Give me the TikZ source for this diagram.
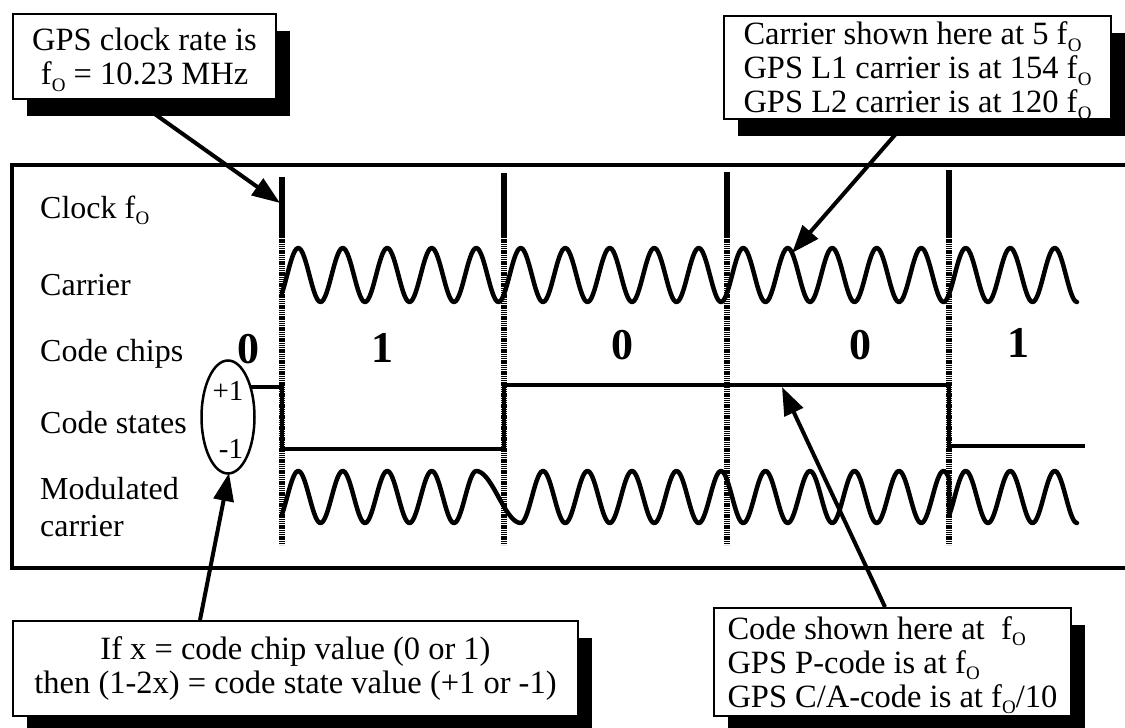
\documentclass[tikz,border=0pt]{standalone}
\usepackage{fontspec}
\setmainfont{Liberation Serif}
\usetikzlibrary{arrows.meta,shapes.geometric,shadows}
\pgfdeclarelayer{front}
\pgfsetlayers{main,front}
\newcommand{\fO}{f\kern0.3pt\smash{\raisebox{-6.5pt}{\fontsize{19}{19}\selectfont O}}}
\begin{document}
\begin{tikzpicture}[x=1pt,y=-1pt,
  txt/.style={font=\fontsize{32}{32}\selectfont, inner sep=0pt},
  chip/.style={font=\fontsize{44}{44}\selectfont\bfseries, inner sep=0pt},
  wave/.style={line width=4.5pt, line join=round, line cap=round},
  clk/.style={line width=6pt},
  clkh/.style={line width=6pt, dash pattern=on 1.3pt off 0.9pt},
  state/.style={line width=4pt},
  arr/.style={line width=4pt, -{Triangle[length=28pt,width=20pt]}},
  callout/.style={draw, line width=2pt, fill=white, inner sep=0pt,
     font=\fontsize{32.5}{34}\selectfont,
     drop shadow={shadow xshift=14pt, shadow yshift=-17pt, opacity=1, fill=black}}
]
\useasboundingbox (0,0) rectangle (1125,728);
% main frame
\draw[line width=4pt] (1125,165) -- (12,165) -- (12,568) -- (1125,568);
% left labels
\node[txt, anchor=base west] (lclk) at (40,218) {Clock \fO};
\node[txt, anchor=base west] (lcar) at (40,295) {Carrier};
\node[txt, anchor=base west] (lchips) at (40,361) {Code chips};
\node[txt, anchor=base west] (lstates) at (40,433) {Code states};
\node[txt, anchor=base west] (lmod1) at (40,499) {Modulated};
\node[txt, anchor=base west] (lmod2) at (40,536) {carrier};
% clock lines
\foreach \cx/\top in {282/177, 504/173, 727/172, 949/170}{
  \draw[clk] (\cx,\top) -- (\cx,237);
  \draw[clkh] (\cx,237) -- (\cx,545);
}
% carrier
\draw[wave] plot[domain=282:1077, samples=500] (\x, {275 + 27*cos((\x-276)/44.5*360)});
% modulated carrier
\draw[wave] plot[domain=282:476, samples=140] (\x, {497 + 26*cos((\x-276)/44.5*360)})
  -- plot[domain=476:521, samples=40] (\x, {497 - 26*cos((\x-476)/45*180)})
  -- plot[domain=521:949, samples=300] (\x, {497 - 26*cos((\x-276)/44.5*360)})
  -- plot[domain=949:1077, samples=100] (\x, {497 + 26*cos((\x-276)/44.5*360)});
% code chips
\node[chip] (c0a) at (248,349) {0};
\node[chip] (c1a) at (382,348) {1};
\node[chip] (c0b) at (622,345) {0};
\node[chip] (c0c) at (860,345) {0};
\node[chip] (c1b) at (1018,343) {1};
% state ellipse
\node[draw, ellipse, line width=2.5pt, minimum width=53pt, minimum height=113pt, inner sep=0pt] (ell) at (228,417) {};
\node[font=\fontsize{29}{29}\selectfont, inner sep=0pt] (pone) at (228,391) {+1};
\node[font=\fontsize{29}{29}\selectfont, inner sep=0pt] (mone) at (231,449) {-1};
% code states
\coordinate (s0) at (251,387);
\draw[state] (s0) -- (282,387) -- (282,449) -- (504,449) -- (504,385) -- (949,385) -- (949,446) -- (1085,446);
% targets
\coordinate (t1) at (280,203);
\coordinate (t2) at (792,253);
\coordinate (t3) at (782,387);
\coordinate (t4) at (229,473);
% callouts
\begin{pgfonlayer}{front}
\node[callout, anchor=north west, minimum width=263pt, minimum height=85pt, align=center] (b1) at (12,13)
  {GPS clock rate is\\\fO{} = 10.23 MHz};
\node[callout, anchor=north west, minimum width=387pt, minimum height=103pt, align=left] (b2) at (723,15)
  {Carrier shown here at 5 \fO\\GPS L1 carrier is at 154 \fO\\GPS L2 carrier is at 120 \fO};
\node[callout, anchor=north west, minimum width=565pt, minimum height=95pt, align=center] (b3) at (12,620)
  {If x = code chip value (0 or 1)\\then (1-2x) = code state value (+1 or -1)};
\node[callout, anchor=north west, minimum width=357pt, minimum height=108pt, align=left] (b4) at (713,607)
  {Code shown here at \ \fO\\GPS P-code is at \fO\\GPS C/A-code is at \fO/10};
\end{pgfonlayer}
% arrows
\draw[arr] ([xshift=123pt]b1.south west) -- (t1);
\draw[arr] ([xshift=185pt]b2.south west) -- (t2);
\draw[arr] ([xshift=172pt]b4.north west) -- (t3);
\draw[arr] ([xshift=188pt]b3.north west) -- (t4);
\end{tikzpicture}
\end{document}
